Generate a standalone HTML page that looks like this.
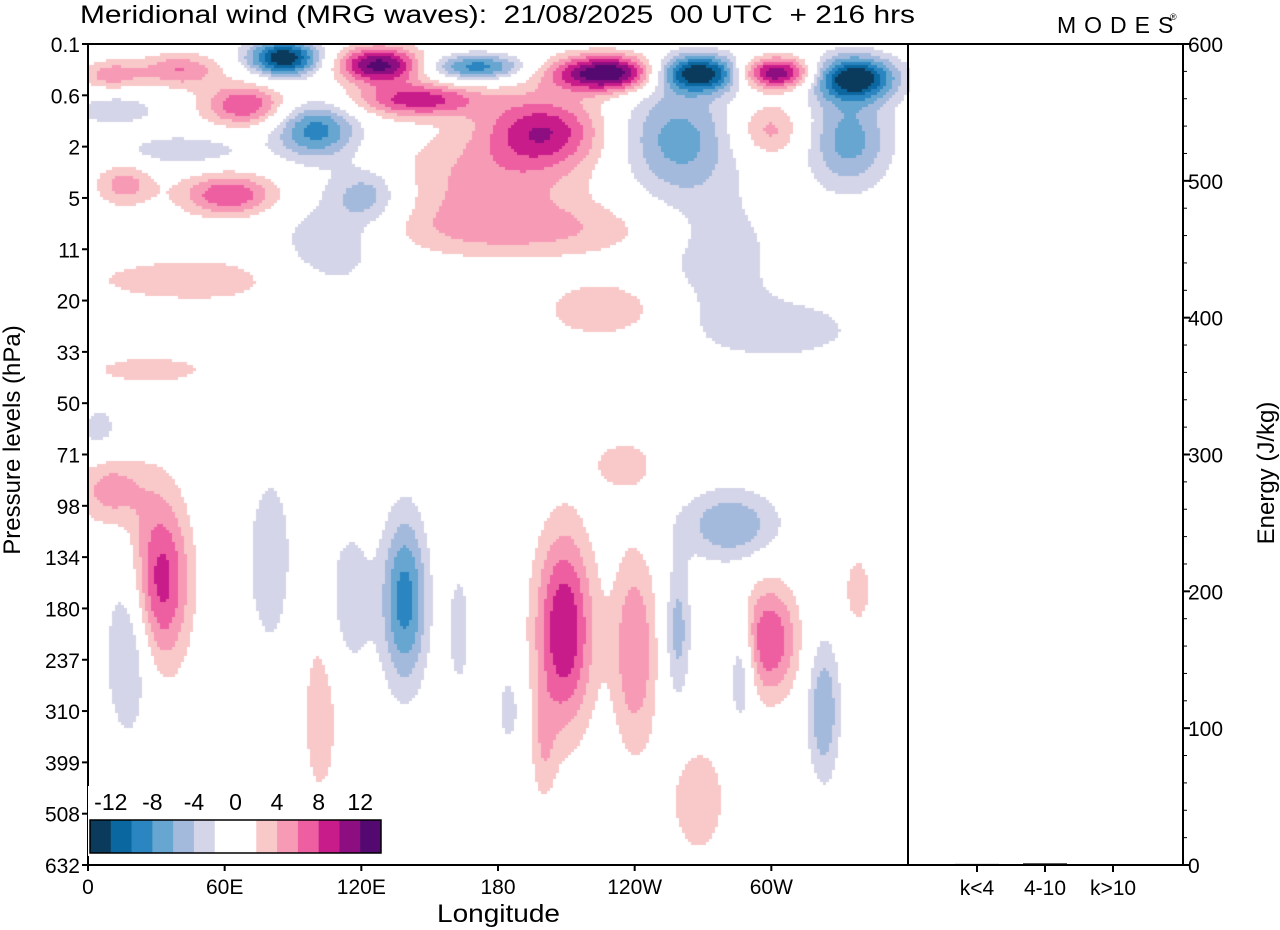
<!DOCTYPE html>
<html><head><meta charset="utf-8"><style>
body{margin:0;background:#fff;width:1280px;height:930px;overflow:hidden;font-family:"Liberation Sans",sans-serif}
#wrap{position:relative;width:1280px;height:930px}
canvas{position:absolute;left:0;top:0}
svg{position:absolute;left:0;top:0}
text{font-family:"Liberation Sans",sans-serif;fill:#000;white-space:pre}
</style></head><body><div id="wrap">
<canvas id="cv" width="1280" height="930"></canvas>
<svg id="sv" width="1280" height="930"></svg>
</div>
<script>
// data
const levelLabels=["0.1","0.6","2","5","11","20","33","50","71","98","134","180","237","310","399","508","632"];
const lonTicks=[0,60,120,180,240,300];
const lonLabels=["0","60E","120E","180","120W","60W"];
const energyTicks=[0,100,200,300,400,500,600];
const energyCats=["k<4","4-10","k>10"];
const energyVals=[0.8,1.2,0.3];
const cbLabels=["-12","-8","-4","0","4","8","12"];
const cbColors=["#0b3b5c","#0b67a0","#2b85c0","#66a6d1","#a4badd","#d4d5e8","#ffffff","#ffffff","#f9c8c8","#f79ab6","#ee5fa1","#c91c8b","#8d0e81","#53096f"];
// blobs: lon(deg), level(index), amplitude(m/s), lon width(deg), level width
const blobLon=[86,128,171,229,268,301,336,10,40,69,12,145,100,42,200,176,259,334,299,62,16,123,106,190,277,303,226,49,27,5,10,32,80,18,139,115,102,209,240,259,299,323,287,282,235,268,338,163,200,185];
const blobLev=[0.27,0.41,0.45,0.57,0.57,0.57,0.66,0.6,0.51,1.19,1.29,1.09,1.68,2.07,1.68,2.65,1.87,1.87,1.68,2.94,2.75,2.94,4.02,3.63,4.02,5.57,5.18,4.6,6.35,7.52,8.69,10.45,10.06,11.81,10.84,10.84,12.98,11.42,11.81,11.42,11.62,12.98,12.2,9.38,8.2,14.74,10.64,11.42,13.76,12.98];
const blobAmp=[-14,13,-9,15,-15,13,-14,5,6,8,-4,9,-9,-4,9,4.5,-7,-7,5,8,5,-5,-4,4,-3.5,-3,4,3,3,-3,5,9,-3,-5,-9,-4,3,10,6,-5,8,-6,-5,-6,3,3,3,-3,3,-3];
const blobSx=[11,13,15,18,15,13,13,9,13,13,13,20,13,18,18,31,18,13,11,15,9,11,18,44,18,30,18,44,22,7,11,9,9,7,7,7,7,9,7,4,9,5,4,15,11,11,5,4,4,4];
const blobSy=[0.25,0.25,0.18,0.25,0.25,0.22,0.3,0.2,0.23,0.29,0.2,0.23,0.39,0.2,0.49,0.7,0.78,0.68,0.39,0.29,0.29,0.39,0.8,0.39,0.8,0.5,0.39,0.39,0.23,0.39,0.49,1.17,1.56,1.17,1.17,0.97,1.56,1.36,1.36,0.97,0.78,0.97,0.78,0.49,0.39,0.97,0.58,0.97,0.78,0.58];

const X0=88,X1=908,Y0=44,Y1=865;
const xs=l=>X0+l/360*(X1-X0);
const ys=i=>Y0+i*(Y1-Y0)/16;
const ey=v=>Y1-v/600*(Y1-Y0);

// field
const cv=document.getElementById('cv'),ctx=cv.getContext('2d');
const cell=3;
for(let px=X0;px<X1;px+=cell){
  const lon=(px+cell/2-X0)/(X1-X0)*360;
  for(let py=Y0;py<Y1;py+=cell){
    const lev=(py+cell/2-Y0)/(Y1-Y0)*16;
    let v=0;
    for(let k=0;k<blobLon.length;k++){
      const dx=(lon-blobLon[k])/blobSx[k],dy=(lev-blobLev[k])/blobSy[k];
      const d=dx*dx+dy*dy; if(d<12) v+=blobAmp[k]*Math.exp(-d/2);
    }
    let idx=Math.floor(v/2); idx=Math.max(-7,Math.min(6,idx));
    const c=cbColors[idx+7];
    if(c!=="#ffffff"){ctx.fillStyle=c;ctx.fillRect(px,py,cell,cell);}
  }
}

// axes
const sv=document.getElementById('sv');const NS="http://www.w3.org/2000/svg";
function mk(t,a,txt){const e=document.createElementNS(NS,t);for(const k in a)e.setAttribute(k,a[k]);if(txt!==undefined)e.textContent=txt;sv.appendChild(e);return e;}
let e;
e=mk('rect',{x:X0,y:Y0,width:X1-X0,height:Y1-Y0,fill:'none',stroke:'#000','stroke-width':2});

e=mk('rect',{x:X1,y:Y0,width:1183-X1,height:Y1-Y0,fill:'none',stroke:'#000','stroke-width':2});

levelLabels.forEach((l,i)=>{
  mk('line',{x1:X0-6,x2:X0,y1:ys(i),y2:ys(i),stroke:'#000','stroke-width':2});
  e=mk('text',{x:X0-8,y:ys(i)+8,'text-anchor':'end','font-size':21},l);
  
});
lonTicks.forEach((l,i)=>{
  mk('line',{x1:xs(l),x2:xs(l),y1:Y1,y2:Y1+6,stroke:'#000','stroke-width':2});
  e=mk('text',{x:xs(l),y:Y1+29,'text-anchor':'middle','font-size':21},lonLabels[i]);
  
});
for(let v=0;v<=600;v+=20){
  const maj=v%100===0;
  mk('line',{x1:1183,x2:1183+(maj?7:4),y1:ey(v),y2:ey(v),stroke:'#000','stroke-width':maj?2:1});
}
energyTicks.forEach(v=>{
  e=mk('text',{x:1188,y:ey(v)+8,'font-size':21},String(v));
  
});
const bx=[977,1045,1113];
energyCats.forEach((c,i)=>{
  mk('line',{x1:bx[i],x2:bx[i],y1:Y1,y2:Y1+7,stroke:'#000','stroke-width':2});
  e=mk('rect',{x:bx[i]-22,y:ey(energyVals[i]),width:44,height:Y1-ey(energyVals[i]),fill:'#000'});
  
  e=mk('text',{x:bx[i],y:Y1+30,'text-anchor':'middle','font-size':21},c);
  
});
e=mk('text',{x:437,y:922,'font-size':25,textLength:123,lengthAdjust:'spacingAndGlyphs'},'Longitude');

e=mk('text',{x:0,y:0,'text-anchor':'middle','font-size':24,transform:'translate(20,440) rotate(-90)'},'Pressure levels (hPa)');

e=mk('text',{x:0,y:0,'text-anchor':'middle','font-size':24,transform:'translate(1274,473) rotate(-90)'},'Energy (J/kg)');

e=mk('text',{x:80,y:23,'font-size':25,textLength:835,lengthAdjust:'spacingAndGlyphs'},'Meridional wind (MRG waves):  21/08/2025  00 UTC  + 216 hrs');

e=mk('text',{x:1057,y:33,'font-size':23,'letter-spacing':'8',fill:'#666'},'MODES');

e=mk('text',{x:1170,y:20,'font-size':9,fill:'#666'},'®');

// colorbar
const cbx=90,cbw=291/14;
e=mk('rect',{x:cbx-2,y:786,width:296,height:70,fill:'#fff'});

cbColors.forEach((c,i)=>{
  e=mk('rect',{x:cbx+i*cbw,y:820,width:cbw+0.5,height:33,fill:c});
  
});
mk('rect',{x:cbx,y:820,width:291,height:33,fill:'none',stroke:'#000','stroke-width':1.5});
cbLabels.forEach((l,i)=>{
  e=mk('text',{x:cbx+(i*2+1)*cbw,y:810,'text-anchor':'middle','font-size':23},l);
  
});
</script></body></html>
